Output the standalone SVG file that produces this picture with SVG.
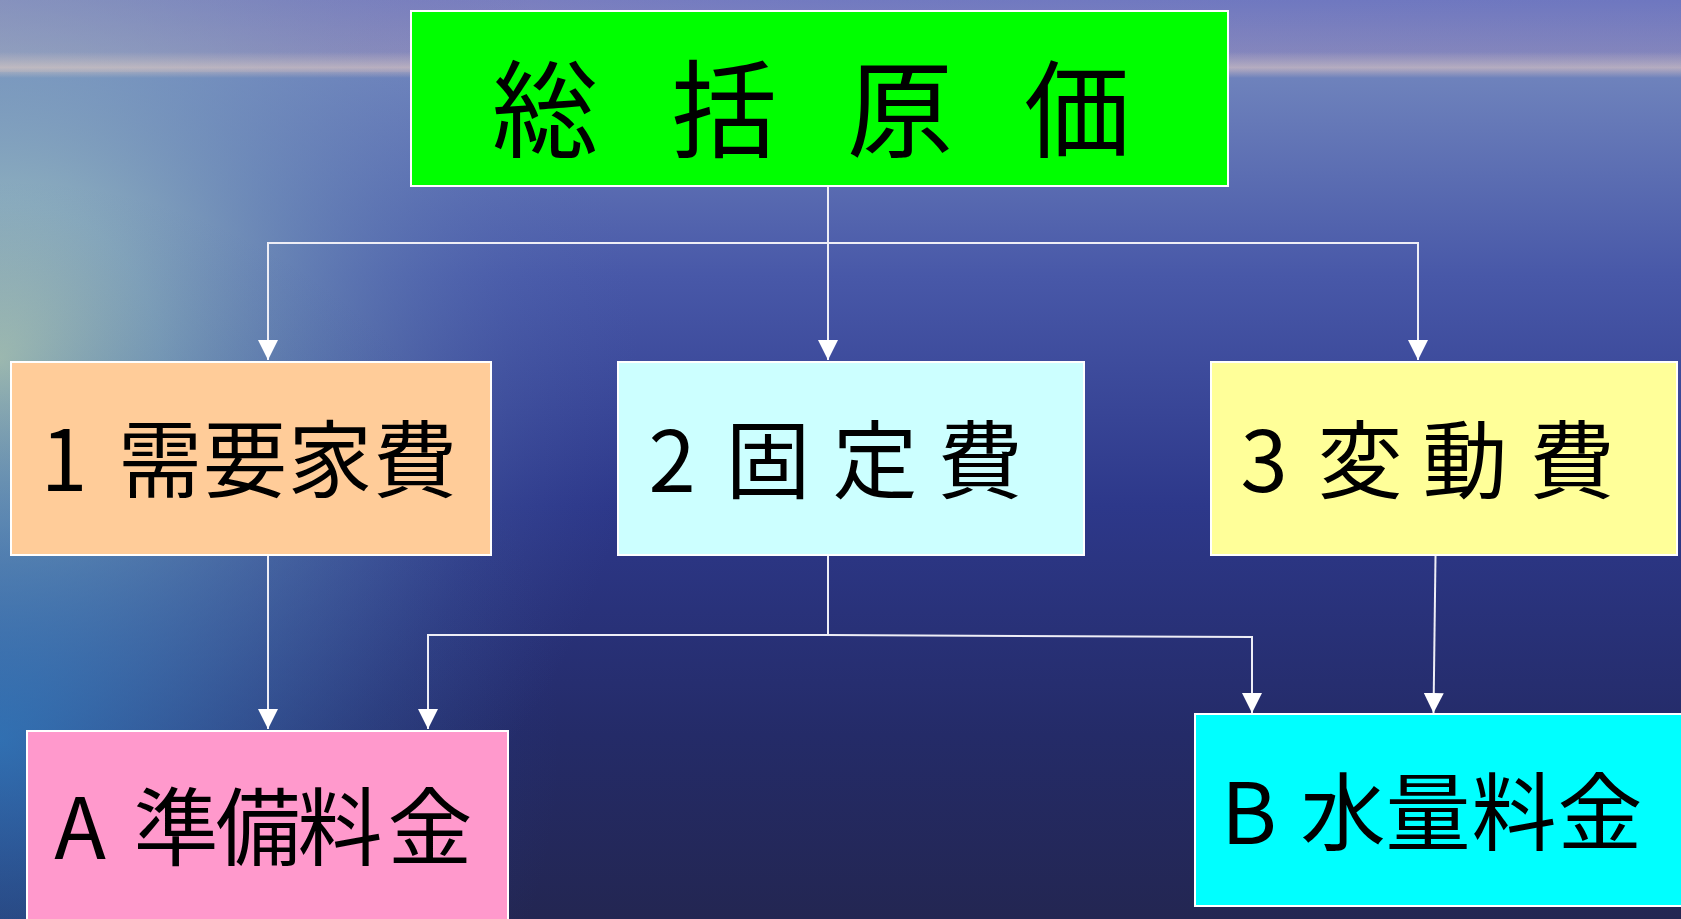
<svg xmlns="http://www.w3.org/2000/svg" width="1681" height="919" viewBox="0 0 1681 919">
<defs>
<linearGradient id="bgV" x1="0" y1="0" x2="0" y2="1">
<stop offset="0" stop-color="#6c76c0"/>
<stop offset="0.06" stop-color="#8486bc"/>
<stop offset="0.085" stop-color="#6e82bc"/>
<stop offset="0.3" stop-color="#4858a8"/>
<stop offset="0.55" stop-color="#2d388a"/>
<stop offset="0.8" stop-color="#242b68"/>
<stop offset="1" stop-color="#232652"/>
</linearGradient>
<radialGradient id="glow" cx="0" cy="360" r="640" gradientUnits="userSpaceOnUse">
<stop offset="0" stop-color="#c8e0b4" stop-opacity="0.9"/>
<stop offset="0.25" stop-color="#a2cac4" stop-opacity="0.7"/>
<stop offset="0.5" stop-color="#80a8c0" stop-opacity="0.45"/>
<stop offset="0.8" stop-color="#6080b8" stop-opacity="0.15"/>
<stop offset="1" stop-color="#4a68b0" stop-opacity="0"/>
</radialGradient>
<radialGradient id="glow2" cx="0" cy="740" r="560" gradientUnits="userSpaceOnUse">
<stop offset="0" stop-color="#2a7cc4" stop-opacity="0.7"/>
<stop offset="0.55" stop-color="#2a5eaa" stop-opacity="0.3"/>
<stop offset="1" stop-color="#2a4a98" stop-opacity="0"/>
</radialGradient>
<linearGradient id="horizonV" x1="0" y1="0" x2="0" y2="1">
<stop offset="0" stop-color="#f0d4c4" stop-opacity="0"/>
<stop offset="0.6" stop-color="#f0d4c4" stop-opacity="0.5"/>
<stop offset="1" stop-color="#f0d4c4" stop-opacity="0"/>
</linearGradient>
<linearGradient id="skyFade" x1="0" y1="0" x2="1" y2="0">
<stop offset="0" stop-color="#b8a0b8" stop-opacity="0.45"/>
<stop offset="0.5" stop-color="#9090c0" stop-opacity="0.15"/>
<stop offset="1" stop-color="#8080c0" stop-opacity="0.1"/>
</linearGradient>
<marker id="arr" markerUnits="userSpaceOnUse" markerWidth="20" markerHeight="20" refX="20" refY="10" orient="auto">
<path d="M0,0 L20,10 L0,20 z" fill="#ffffff"/>
</marker>
<style>
.box{stroke:#ffffff;stroke-width:2}
.conn{fill:none;stroke:#eeeef6;stroke-width:2}
.lbl{font-family:"Noto Sans CJK JP","Noto Sans CJK SC",sans-serif;font-weight:400;fill:#000000;text-anchor:middle}
</style>
</defs>
<g id="background">
<rect x="0" y="0" width="1681" height="919" fill="url(#bgV)"/>
<rect x="0" y="0" width="1681" height="72" fill="url(#skyFade)"/>
<rect x="0" y="0" width="1681" height="919" fill="url(#glow)"/>
<rect x="0" y="0" width="1681" height="919" fill="url(#glow2)"/>
<rect x="0" y="52" width="1681" height="26" fill="url(#horizonV)"/>
</g>
<g id="connectors">
<path class="conn" d="M828,187 V360" marker-end="url(#arr)"/>
<path class="conn" d="M828,243 H268 V360" marker-end="url(#arr)"/>
<path class="conn" d="M828,243 H1418 V360" marker-end="url(#arr)"/>
<path class="conn" d="M268,555 V729" marker-end="url(#arr)"/>
<path class="conn" d="M828,555 V635 H428 V729" marker-end="url(#arr)"/>
<path class="conn" d="M828,635 L1252,637 V713" marker-end="url(#arr)"/>
<path class="conn" d="M1435.5,556 L1433.5,713" marker-end="url(#arr)"/>
</g>
<g id="node-total">
<rect class="box" x="411" y="11" width="817" height="175" fill="#00ff00"/>
<text class="lbl" font-size="106" x="545 634 724 812 900 988 1077" y="149">総 括 原 価</text>
</g>
<g id="node-1">
<rect class="box" x="11" y="362" width="480" height="193" fill="#ffcc99"/>
<text class="lbl" font-size="84" x="64 110 160 245 330 415" y="491">1 需要家費</text>
</g>
<g id="node-2">
<rect class="box" x="618" y="362" width="466" height="193" fill="#ccffff"/>
<text class="lbl" font-size="85" x="672 720 768 875 980" y="492">2 固定費</text>
</g>
<g id="node-3">
<rect class="box" x="1211" y="362" width="466" height="193" fill="#ffff99"/>
<text class="lbl" font-size="85" x="1264 1310 1360 1465 1572" y="492">3 変動費</text>
</g>
<g id="node-A">
<rect class="box" x="27" y="731" width="481" height="200" fill="#ff99cc"/>
<text class="lbl" font-size="85" x="80 115 176 258 340 430" y="859">A 準備料金</text>
</g>
<g id="node-B">
<rect class="box" x="1195" y="714" width="492" height="192" fill="#00ffff"/>
<text class="lbl" font-size="85" x="1249 1280 1343 1428 1514 1600" y="844">B 水量料金</text>
</g>
</svg>
